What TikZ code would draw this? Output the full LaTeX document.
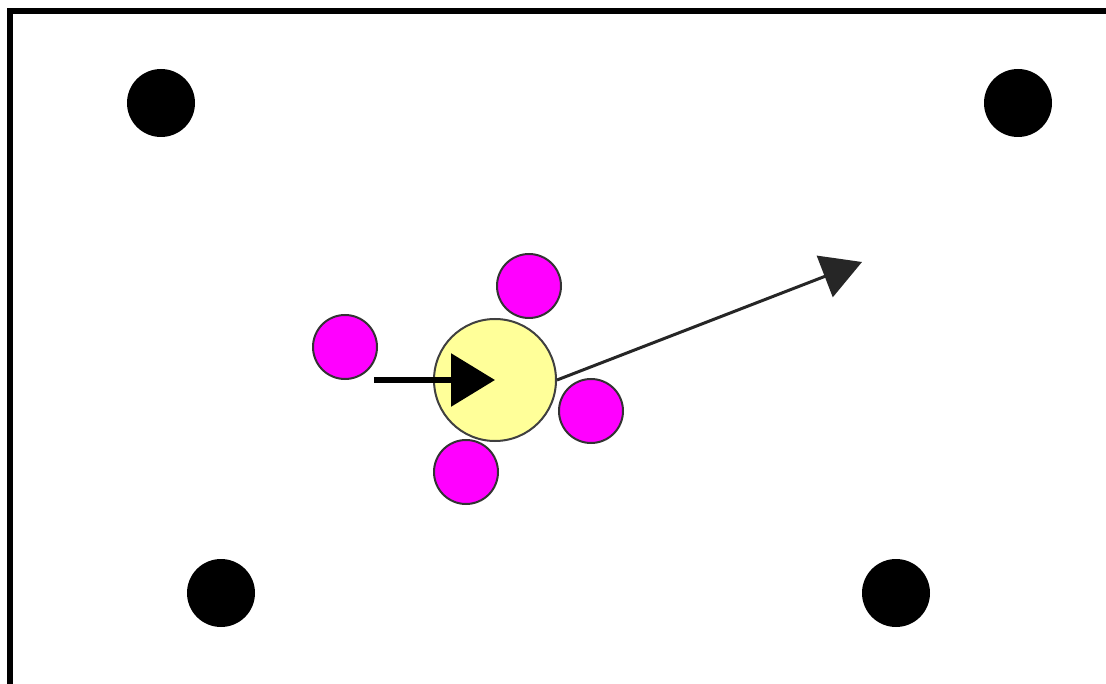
\documentclass[tikz,border=0pt]{standalone}
\usepackage{xcolor}
\usetikzlibrary{arrows.meta}
\definecolor{coreyellow}{RGB}{255,255,153}
\definecolor{beadmagenta}{RGB}{255,0,255}

\begin{document}
\begin{tikzpicture}[
  x=1pt, y=-1pt,
  fixed/.style={circle, fill=black, minimum size=68pt, inner sep=0pt},
  core/.style={circle, fill=coreyellow, draw=black!75, line width=2pt,
               minimum size=122pt, inner sep=0pt},
  bead/.style={circle, fill=beadmagenta, draw=black!80, line width=2pt,
               minimum size=64pt, inner sep=0pt},
  arr/.style={-{Triangle[length=44pt, width=52pt]}, line width=6pt},
  vel/.style={-{Triangle[length=40pt, width=44pt]}, line width=3pt, black!85}
]
\useasboundingbox (0,0) rectangle (1106,684);

% ---- Frame (open to the right and bottom) ----
\draw[line width=6pt] (10,684) -- (10,11) -- (1106,11);

% ---- Fixed points at the corners ----
\node[fixed] (tl) at (161,103) {};
\node[fixed] (tr) at (1018,103) {};
\node[fixed] (bl) at (221,593) {};
\node[fixed] (br) at (896,593) {};

% ---- Central particle with its beads ----
\node[core] (core) at (495,380) {};
\node[bead] (bleft)  at (345,347) {};
\node[bead] (btop)   at (529,286) {};
\node[bead] (bright) at (591,411) {};
\node[bead] (bdown)  at (466,472) {};

% ---- Arrows ----
\coordinate (velend) at (862,262);
\draw[arr] ([xshift=-4pt]bleft.east |- core.center) -- (core.center);
\draw[vel] (core.east) -- (velend);

\end{tikzpicture}
\end{document}
